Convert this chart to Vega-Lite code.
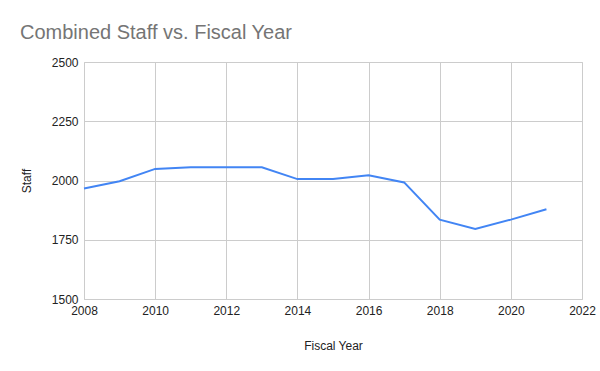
{
  "$schema": "https://vega.github.io/schema/vega-lite/v6.json",
  "width": 498,
  "height": 237,
  "autosize": {"type": "none"},
  "padding": {"left": 84, "top": 62, "right": 18, "bottom": 72},
  "background": "white",
  "title": {
    "text": "Combined Staff vs. Fiscal Year",
    "anchor": "start",
    "frame": "group",
    "dx": -64,
    "offset": 13,
    "font": "Liberation Sans",
    "fontSize": 20,
    "fontWeight": "normal",
    "color": "#757575"
  },
  "data": {
    "values": [
      {"year": 2008, "staff": 1966},
      {"year": 2009, "staff": 1997},
      {"year": 2010, "staff": 2049},
      {"year": 2011, "staff": 2056},
      {"year": 2012, "staff": 2056},
      {"year": 2013, "staff": 2056},
      {"year": 2014, "staff": 2006},
      {"year": 2015, "staff": 2006},
      {"year": 2016, "staff": 2022},
      {"year": 2017, "staff": 1992},
      {"year": 2018, "staff": 1835},
      {"year": 2019, "staff": 1796},
      {"year": 2020, "staff": 1835},
      {"year": 2021, "staff": 1879}
    ]
  },
  "mark": {"type": "line", "color": "#4285F4", "strokeWidth": 2},
  "encoding": {
    "x": {
      "field": "year",
      "type": "quantitative",
      "title": "Fiscal Year",
      "scale": {"domain": [2008, 2022], "nice": false, "zero": false},
      "axis": {
        "values": [2008, 2010, 2012, 2014, 2016, 2018, 2020, 2022],
        "format": "d",
        "domain": false,
        "ticks": false,
        "labelFlush": false,
        "labelPadding": 6,
        "titlePadding": 24,
        "grid": true
      }
    },
    "y": {
      "field": "staff",
      "type": "quantitative",
      "title": "Staff",
      "scale": {"domain": [1500, 2500], "nice": false, "zero": false},
      "axis": {
        "values": [1500, 1750, 2000, 2250, 2500],
        "format": "d",
        "domain": false,
        "ticks": false,
        "labelFlush": false,
        "labelPadding": 6,
        "titlePadding": 18,
        "grid": true
      }
    }
  },
  "config": {
    "view": {"stroke": "#cccccc"},
    "axis": {
      "labelFont": "Liberation Sans",
      "labelFontSize": 12,
      "labelColor": "#222222",
      "titleFont": "Liberation Sans",
      "titleFontSize": 12,
      "titleFontWeight": "normal",
      "titleColor": "#222222",
      "gridColor": "#cccccc",
      "gridOpacity": 1
    }
  }
}
